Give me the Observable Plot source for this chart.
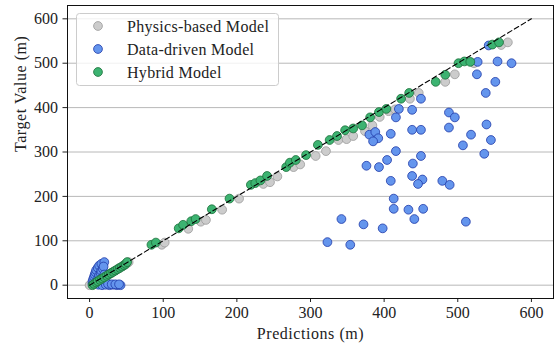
<!DOCTYPE html>
<html><head><meta charset="utf-8">
<script src="https://cdn.jsdelivr.net/npm/d3@7"></script>
<script src="https://cdn.jsdelivr.net/npm/@observablehq/plot@0.6"></script>
<style>
body{margin:0;background:#fff}
#chart{position:relative;width:554px;height:349px}
</style>
</head><body><div id="chart"></div>
<script>
// ---- Data ----
const seriesNames = ["Physics-based Model", "Data-driven Model", "Hybrid Model"];
const seriesFill = ["#cccccc", "#6495ed", "#3cb371"];
const seriesStroke = ["#9a9a9a", "#1f3aa8", "#1b6e38"];
const ticks = [0, 100, 200, 300, 400, 500, 600];
const diagonal = [0, 600];

// Physics-based model: predictions and targets
const physicsPred = [0,5,10,15,20,25,30,35,40,45,50,53,
  98,102,134,151,158,180,203,236,245,255,277,286,307,321,338,349,358,374,384,394,406,415,435,447,483,496,522,559,568];
const physicsTarget = [0,3,8,13,18,23,28,33,38,43,48,52,
  91,96,127,143,147,170,195,228,232,245,266,272,291,302,327,329,336,347,360,379,392,396,420,433,458,475,500,541,547];

// Data-driven model
const dataPred = [4,4,5,6,7,8,9,11,13,16,20,
  9,11,12,13,15,16,18,19,14,16,18,20,
  12,17,22,27,32,37,42,25,30,35,40,
  542,554,573,527,526,551,538,450,420,438,416,488,496,380,388,392,385,409,438,450,488,539,518,545,507,536,416,450,404,376,393,439,409,438,452,446,479,489,413,413,433,453,441,342,372,398,511,323,354];
const dataTarget = [4,9,14,19,24,29,34,39,44,48,52,
  5,11,17,22,27,32,37,42,6,12,18,24,
  1,0,1,0,1,0,0,3,2,2,2,
  540,504,500,503,475,458,433,420,397,395,378,389,378,339,345,331,324,341,350,350,355,362,339,327,315,296,302,291,282,269,266,274,235,246,238,228,235,226,195,172,170,172,149,149,137,128,143,97,91];

// Hybrid model
const hybridPred = [4,6,9,11,14,17,20,23,26,29,32,35,38,41,44,47,49,51,
  84,90,121,127,138,144,166,190,219,225,232,241,267,272,280,294,310,326,336,347,358,370,381,393,403,423,434,470,483,501,509,517,547,556];
const hybridTarget = [0,3,6,9,12,15,18,21,24,27,30,33,36,39,42,45,48,52,
  91,96,128,136,144,149,171,195,226,230,236,246,266,276,282,293,316,327,336,349,353,360,378,390,397,420,433,458,474,500,504,503,542,547];

const toRows = (p, t) => p.map((v, i) => ({pred: v, target: t[i]}));
const physics = toRows(physicsPred, physicsTarget);
const dataDriven = toRows(dataPred, dataTarget);
const hybrid = toRows(hybridPred, hybridTarget);

const font = "'Liberation Serif', 'Times New Roman', serif";
const fs = 16;
const dotOpts = (k) => ({x: "pred", y: "target", r: 4.4, fill: seriesFill[k], stroke: seriesStroke[k], strokeWidth: 0.8, fillOpacity: 1});

const svg = Plot.plot({
  width: 554, height: 349,
  marginLeft: 67, marginRight: 1, marginTop: 5, marginBottom: 51,
  style: {fontFamily: font, fontSize: fs + "px", background: "#fff", color: "#222"},
  x: {domain: [-30, 630]},
  y: {domain: [-30, 630]},
  marks: [
    Plot.gridY(ticks, {stroke: "#b0b0b0", strokeOpacity: 1, strokeWidth: 0.9}),
    Plot.dot(physics, dotOpts(0)),
    Plot.dot(dataDriven, dotOpts(1)),
    Plot.dot(hybrid, dotOpts(2)),
    Plot.line(diagonal, {x: d => d, y: d => d, stroke: "#000", strokeWidth: 1.1, strokeDasharray: "5,3"}),
    Plot.axisX(ticks, {tickSize: 4, tickPadding: 4, label: null, fontSize: fs}),
    Plot.axisY(ticks, {tickSize: 4.5, tickPadding: 5, label: null, fontSize: fs}),
    Plot.text(["Predictions (m)"], {frameAnchor: "bottom", dy: 40, text: d => d, fontSize: fs, fill: "#222"}),
    Plot.text(["Target Value (m)"], {frameAnchor: "left", dx: -47, rotate: -90, text: d => d, fontSize: fs, fill: "#222"}),
    Plot.frame({stroke: "#111", strokeWidth: 1})
  ]
});
document.getElementById("chart").appendChild(svg);

// widen axis titles slightly (Computer Modern is wider than Times)
d3.select(svg).selectAll("text").filter(function() {
  const t = this.textContent; return t === "Predictions (m)" || t === "Target Value (m)";
}).attr("letter-spacing", "0.55px");

// Legend (matplotlib style, inside the axes at upper left)
const lg = d3.select(svg).append("g").attr("font-family", font).attr("font-size", fs).attr("text-anchor", "start");
lg.append("rect").attr("x", 76.5).attr("y", 13.5).attr("width", 202).attr("height", 72).attr("rx", 3)
  .attr("fill", "#fff").attr("fill-opacity", 0.8).attr("stroke", "#cccccc").attr("stroke-width", 1);
seriesNames.forEach((name, k) => {
  const cy = 26 + k * 23;
  lg.append("circle").attr("cx", 98).attr("cy", cy).attr("r", 4.4)
    .attr("fill", seriesFill[k]).attr("stroke", seriesStroke[k]).attr("stroke-width", 0.8);
  lg.append("text").attr("x", 127).attr("y", cy).attr("dy", "0.35em").attr("fill", "#222")
    .attr("text-anchor", "start").attr("letter-spacing", "0.3px").text(name);
});
</script>
</body></html>
